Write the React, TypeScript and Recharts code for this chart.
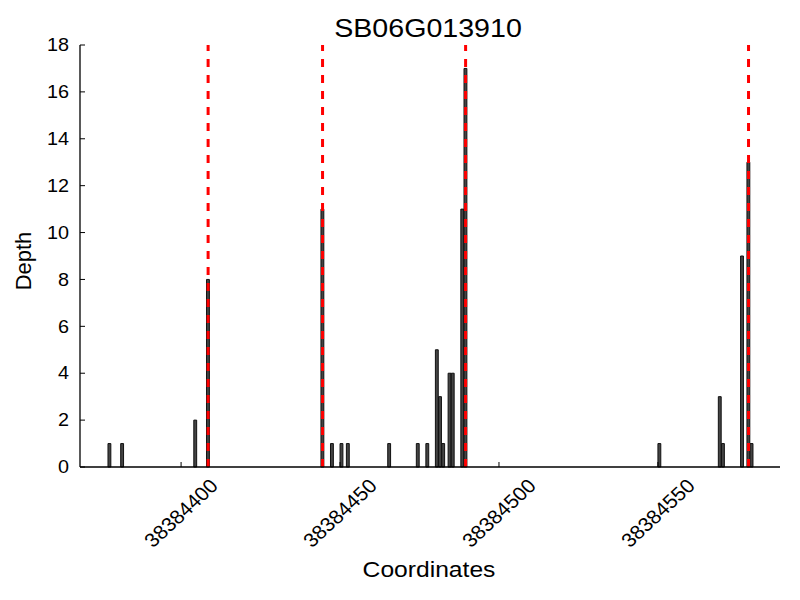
import React from 'react';
import { BarChart, Bar, XAxis, YAxis, ReferenceLine } from 'recharts';

const title = 'SB06G013910';
const xLabel = 'Coordinates';
const yLabel = 'Depth';

const positions = [
  38384377, 38384381, 38384404, 38384408, 38384444, 38384447, 38384450, 38384452,
  38384465, 38384474, 38384477, 38384480, 38384481, 38384482, 38384484, 38384485,
  38384488, 38384489, 38384550, 38384569, 38384570, 38384576, 38384578, 38384579,
];
const depths = [1, 1, 2, 8, 11, 1, 1, 1, 1, 1, 1, 5, 3, 1, 4, 4, 11, 17, 1, 3, 1, 9, 13, 1];
const markers = [38384408.5, 38384444.5, 38384489.5, 38384578.5];
const xTicks = [38384400, 38384450, 38384500, 38384550];
const yTicks = [0, 2, 4, 6, 8, 10, 12, 14, 16, 18];

const data = positions.map((p, i) => ({ center: p + 0.5, depth: depths[i] }));

const FONT = 'Liberation Sans';

const XTick = (props: any) => {
  const { x, payload } = props;
  const cx = x;
  const cy = 513;
  return (
    <text
      transform={`translate(${cx} ${cy}) scale(1.08 1) rotate(-45)`}
      textAnchor="middle"
      dominantBaseline="central"
      fontSize={19.5}
      fontFamily={FONT}
      fill="#000"
    >
      {payload.value}
    </text>
  );
};

const YTick = (props: any) => {
  const { x, y, payload } = props;
  return (
    <text
      transform={`translate(${x} ${y}) scale(1.1 1)`}
      textAnchor="end"
      dominantBaseline="central"
      fontSize={18}
      fontFamily={FONT}
      fill="#000"
    >
      {payload.value}
    </text>
  );
};

export default function App() {
  return (
    <div style={{ position: 'absolute', left: 0, top: 0, width: 800, height: 600, background: '#fff' }}>
      <BarChart
        width={800}
        height={600}
        data={data}
        margin={{ top: 45, right: 20, bottom: 0, left: 0 }}
      >
        <XAxis
          type="number"
          dataKey="center"
          domain={[38384368.2, 38384588.4]}
          allowDataOverflow
          ticks={xTicks}
          height={133}
          tickSize={-5}
          tickMargin={10}
          tick={<XTick />}
          axisLine={{ stroke: '#000', strokeWidth: 1.3 }}
          tickLine={{ stroke: '#000' }}
        />
        <YAxis
          type="number"
          domain={[0, 18]}
          ticks={yTicks}
          width={80}
          tickSize={-5}
          tickMargin={16}
          tick={<YTick />}
          axisLine={{ stroke: '#000', strokeWidth: 1.3 }}
          tickLine={{ stroke: '#000' }}
        />
        <Bar
          dataKey="depth"
          barSize={3.6}
          fill="#444444"
          stroke="#111111"
          strokeWidth={1}
          isAnimationActive={false}
        />
        {markers.map((m) => (
          <ReferenceLine
            key={m}
            x={m}
            stroke="#ff0000"
            strokeWidth={3}
            strokeDasharray="8 8"
          />
        ))}
        <text
          transform="translate(428 37) scale(1.1 1)"
          textAnchor="middle"
          fontSize={26}
          fontFamily={FONT}
          fill="#000"
        >
          {title}
        </text>
        <text
          transform="translate(429 577) scale(1.12 1)"
          textAnchor="middle"
          fontSize={22}
          fontFamily={FONT}
          fill="#000"
        >
          {xLabel}
        </text>
        <text
          x={31}
          y={261}
          transform="rotate(-90 31 261)"
          textAnchor="middle"
          fontSize={22}
          fontFamily={FONT}
          fill="#000"
        >
          {yLabel}
        </text>
      </BarChart>
    </div>
  );
}
